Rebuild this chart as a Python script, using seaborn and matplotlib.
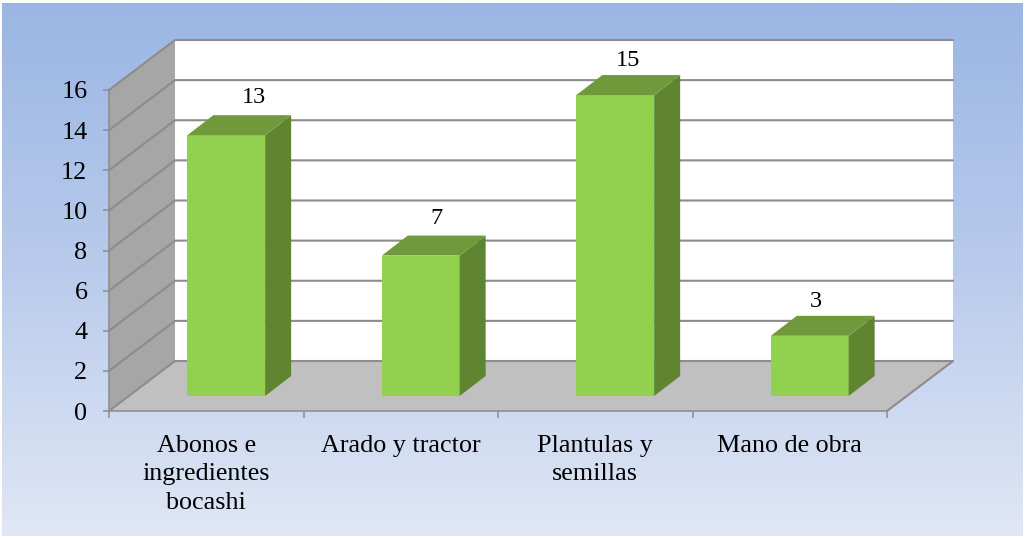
import numpy as np
import pandas as pd
import matplotlib
matplotlib.use("Agg")
import matplotlib.pyplot as plt
from matplotlib.colors import LinearSegmentedColormap
from matplotlib.patches import Polygon
from matplotlib.transforms import Affine2D, IdentityTransform
import seaborn as sns

categories = ["Abonos e\ningredientes\nbocashi", "Arado y tractor",
              "Plantulas y\nsemillas", "Mano de obra"]
values = [13, 7, 15, 3]
y_ticks = list(range(0, 17, 2))

W, H = 1025, 538
DPI = 100
GRID = "#8c8c8c"
FRONT, SIDE, TOP = "#92d050", "#5f8531", "#70993b"
WALL, FLOOR = "#a6a6a6", "#c0c0c0"
WALL_DEPTH = (66, 50)      # pixels, up and to the right
BAR_DEPTH = (26, 20)
BAR_SHIFT = (20, 15)
LABEL_NUDGE = [(28, 38), (16, 37), (13, 35), (6, 34)]
FONT_PT = 18.8

sns.set_theme(style="white")
plt.rcParams["font.family"] = ["Liberation Serif", "DejaVu Serif"]

fig = plt.figure(figsize=(W / DPI, H / DPI), dpi=DPI, facecolor="white")

bg = fig.add_axes([2 / W, 2 / H, (W - 4) / W, (H - 5) / H], zorder=0)
cmap = LinearSegmentedColormap.from_list("bg", ["#9ab6e4", "#b9cbec", "#e0e7f5"])
bg.imshow(np.linspace(0, 1, 256)[:, None], aspect="auto", cmap=cmap)
bg.axis("off")

L, R, T, B = 109, 887, 90, 411
ax = fig.add_axes([L / W, 1 - B / H, (R - L) / W, (B - T) / H], zorder=1)
ax.patch.set_alpha(0)

df = pd.DataFrame({"categoria": categories, "valor": values})
sns.barplot(data=df, x="categoria", y="valor", width=0.4, color=FRONT,
            saturation=1, ax=ax, zorder=5)
ax.set_xlim(-0.5, 3.5)
ax.set_ylim(y_ticks[0], y_ticks[-1])
ax.set_xlabel("")
ax.set_ylabel("")

px = IdentityTransform()
def to_px(x, y):
    return ax.transData.transform((x, y))

x0, x1 = ax.get_xlim()
y0, y1 = ax.get_ylim()
dx, dy = WALL_DEPTH
a, b, c = to_px(x0, y0), to_px(x1, y0), to_px(x0, y1)

# back wall, side wall, floor
ax.add_patch(Polygon([a + (dx, dy), b + (dx, dy), to_px(x1, y1) + (dx, dy), c + (dx, dy)],
                     closed=True, fc="white", ec="none", transform=px, clip_on=False, zorder=1))
ax.add_patch(Polygon([a, a + (dx, dy), c + (dx, dy), c],
                     closed=True, fc=WALL, ec="none", transform=px, clip_on=False, zorder=1))
ax.add_patch(Polygon([a, b, b + (dx, dy), a + (dx, dy)],
                     closed=True, fc=FLOOR, ec="none", transform=px, clip_on=False, zorder=1))

# grid on the walls
for t in y_ticks:
    p = to_px(x0, t)
    q = to_px(x1, t)
    ax.plot([p[0], p[0] + dx, q[0] + dx], [p[1], p[1] + dy, q[1] + dy], color=GRID,
            lw=1.5, transform=px, clip_on=False, zorder=2, solid_joinstyle="miter")
ax.plot([b[0], b[0] + dx], [b[1], b[1] + dy], color=GRID, lw=1.5, transform=px,
        clip_on=False, zorder=2)

# bars: shift the front faces onto the floor and add the depth faces
sx, sy = BAR_SHIFT
bx, by = BAR_DEPTH
for patch, val, (nx, ny) in zip(ax.containers[0], values, LABEL_NUDGE):
    patch.set_transform(ax.transData + Affine2D().translate(sx, sy))
    patch.set_clip_on(False)
    patch.set_edgecolor("none")
    xl, xr = patch.get_x(), patch.get_x() + patch.get_width()
    br = to_px(xr, 0) + (sx, sy)
    tl = to_px(xl, val) + (sx, sy)
    tr = to_px(xr, val) + (sx, sy)
    ax.add_patch(Polygon([br, br + (bx, by), tr + (bx, by), tr], closed=True, fc=SIDE,
                         ec="none", transform=px, clip_on=False, zorder=6))
    ax.add_patch(Polygon([tl, tr, tr + (bx, by), tl + (bx, by)], closed=True, fc=TOP,
                         ec="none", transform=px, clip_on=False, zorder=6))
    ax.text(tl[0] + (tr[0] - tl[0]) / 2 + nx, tl[1] + ny, str(val), transform=px,
            ha="center", va="center", fontsize=FONT_PT - 1.3, color="black", zorder=7,
            clip_on=False)

# axes
sns.despine(ax=ax, top=True, right=True)
for s in ("left", "bottom"):
    ax.spines[s].set_color(GRID)
    ax.spines[s].set_linewidth(1.1)
    ax.spines[s].set_zorder(3)
ax.set_yticks(y_ticks)
ax.tick_params(axis="y", left=True, length=4.5, width=1.1, color=GRID, pad=11,
               labelsize=FONT_PT, labelcolor="black")
ax.set_xticks(np.arange(x0, x1 + 0.5), labels=[""] * 5)
ax.set_xticks(np.arange(len(categories)), labels=categories, minor=True)
ax.tick_params(axis="x", which="major", bottom=True, length=5, width=1.1, color=GRID)
ax.tick_params(axis="x", which="minor", bottom=False, length=0, pad=17,
               labelsize=FONT_PT, labelcolor="black")
for lab in ax.get_xticklabels(minor=True):
    lab.set_linespacing(1.38)
    lab.set_va("top")

fig.savefig("out.png", dpi=DPI, facecolor="white")
